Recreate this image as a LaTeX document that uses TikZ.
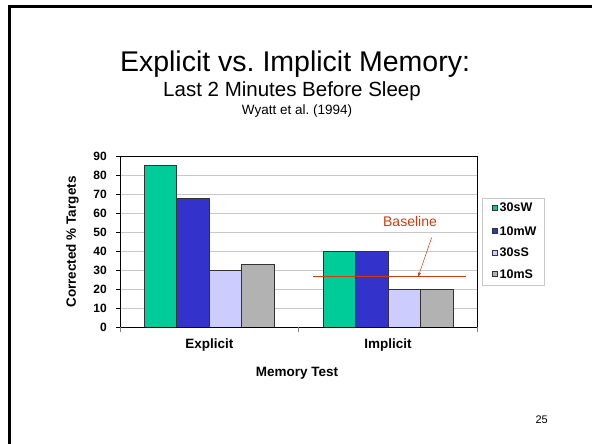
\documentclass[tikz,border=0pt]{standalone}
\usepackage{fontspec}
\setmainfont{Liberation Sans}
\usetikzlibrary{arrows.meta}
\frenchspacing
\definecolor{cA}{HTML}{00CC99}
\definecolor{cB}{HTML}{3333CC}
\definecolor{cC}{HTML}{CCCCFF}
\definecolor{cD}{HTML}{B2B2B2}
\definecolor{redline}{HTML}{D43A0A}
\definecolor{gridc}{HTML}{C8C8C8}
\newcommand{\fs}[1]{\fontsize{#1}{#1}\selectfont}
\tikzset{
  bar/.style={draw=black!80, line width=0.8pt},
  ticklab/.style={anchor=east, inner sep=0pt, font=\fs{12}\bfseries},
  catlab/.style={inner sep=0pt, font=\fs{13.5}\bfseries},
  legtxt/.style={anchor=west, inner sep=0pt, font=\fs{12.5}\bfseries},
  legsq/.style={draw=black!80, line width=0.6pt, minimum size=5pt, inner sep=0pt},
}
\begin{document}
\begin{tikzpicture}[x=1pt,y=-1pt]
\useasboundingbox (0,0) rectangle (592,444);
\fill[white] (0,0) rectangle (592,444);
% slide frame
\draw[line width=3pt, black] (9,444) -- (9,6.5) -- (592,6.5);
% titles
\node[inner sep=0pt, anchor=base, font=\fs{28.5}] (title) at (295,71) {Explicit vs.\ Implicit Memory:};
\node[inner sep=0pt, anchor=base, font=\fs{20.5}] (sub) at (292,96.5) {Last 2 Minutes Before Sleep};
\node[inner sep=0pt, anchor=base, font=\fs{13.5}] (cite) at (297,114) {Wyatt et al.\ (1994)};
% grid
\foreach \v in {10,20,...,80}{
  \draw[gridc, line width=0.7pt] (120,{327.3-\v*1.9}) -- (477,{327.3-\v*1.9});
}
% bars explicit
\draw[bar, fill=cA] (144.3,327.3) rectangle (176.7,{327.3-85*1.9});
\draw[bar, fill=cB] (176.7,327.3) rectangle (209.3,{327.3-68*1.9});
\draw[bar, fill=cC] (209.3,327.3) rectangle (241.7,{327.3-30*1.9});
\draw[bar, fill=cD] (241.7,327.3) rectangle (274.3,{327.3-33*1.9});
% bars implicit
\draw[bar, fill=cA] (323.3,327.3) rectangle (355.7,{327.3-40*1.9});
\draw[bar, fill=cB] (355.7,327.3) rectangle (388.3,{327.3-40*1.9});
\draw[bar, fill=cC] (388.3,327.3) rectangle (420.3,{327.3-20*1.9});
\draw[bar, fill=cD] (420.3,327.3) rectangle (453.3,{327.3-20*1.9});
% plot frame
\draw[black, line width=0.8pt] (120,327.3) -- (120,156) -- (477,156) -- (477,327.3);
\draw[black, line width=0.9pt] (120,327.3) -- (477,327.3);
% y ticks and labels
\foreach \v in {0,10,...,90}{
  \draw[black, line width=0.6pt] (116,{327.3-\v*1.9}) -- (120,{327.3-\v*1.9});
  \node[ticklab] at (107,{327.3-\v*1.9}) {\v};
}
% x ticks
\foreach \x in {120,298.5,477}{
  \draw[gray, line width=0.6pt] (\x,327.3) -- (\x,332);
}
% axis labels
\node[catlab] (explicit) at (209.3,345) {Explicit};
\node[catlab] (implicit) at (388,345) {Implicit};
\node[catlab] (xtitle) at (297,373) {Memory Test};
\node[catlab, rotate=90] (ytitle) at (72.5,242) {Corrected \% Targets};
% baseline
\coordinate (blL) at (313.3,276.3);
\coordinate (blR) at (466,276.3);
\draw[redline, line width=1pt] (blL) -- (blR);
\node[inner sep=0pt, text=redline, font=\fs{14}] (bltxt) at (410,221.7) {Baseline};
\coordinate (arrS) at (431.7,237.5);
\coordinate (arrE) at (418.3,276.3);
\draw[redline, line width=0.5pt, -{Stealth[length=4pt,width=3.5pt]}] (arrS) -- (arrE);
% legend
\node[draw=gridc, line width=0.6pt, minimum width=62pt, minimum height=87pt, inner sep=0pt] (legend) at (513,241.5) {};
\node[legsq, fill=cA] (sqA) at (494.5,207.5) {};
\node[legsq, fill=cB] (sqB) at (494.5,231) {};
\node[legsq, fill=cC] (sqC) at (494.5,252.7) {};
\node[legsq, fill=cD] (sqD) at (494.5,274) {};
\node[legtxt] (lA) at (499.5,207.5) {30sW};
\node[legtxt] (lB) at (499.5,231) {10mW};
\node[legtxt] (lC) at (499.5,252.7) {30sS};
\node[legtxt] (lD) at (499.5,274) {10mS};
% page number
\node[inner sep=0pt, font=\fs{11}] (page) at (541.7,420) {25};
\end{tikzpicture}
\end{document}
